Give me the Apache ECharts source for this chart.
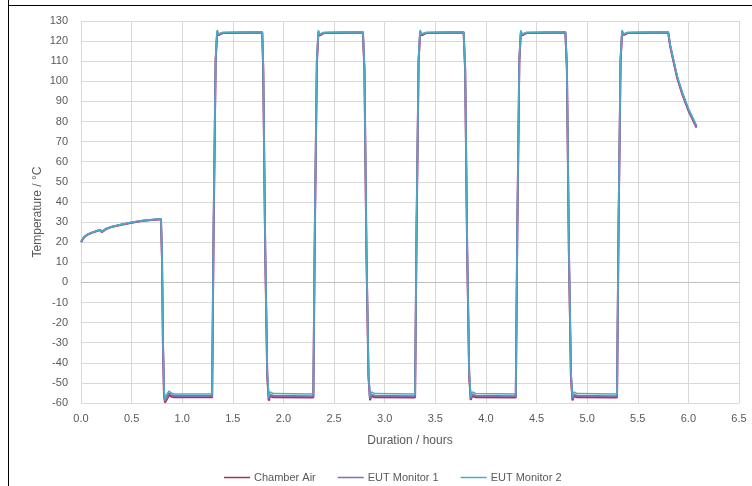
<!DOCTYPE html>
<html>
<head>
<meta charset="utf-8">
<script src="https://cdn.jsdelivr.net/npm/echarts@6/dist/echarts.min.js"></script>
<style>
html,body{margin:0;padding:0;background:#fff;}
#c{width:752px;height:486px;}
</style>
</head>
<body>
<div id="c"></div>
<script>
var hours = [
0,0.03,0.06,0.10,0.15,0.19,0.205,0.215,0.25,0.30,0.40,0.50,0.60,0.70,0.79,
0.80,0.81,0.82,0.83,0.85,0.87,0.89,0.92,1.00,1.295,
1.31,1.33,1.345,1.36,1.375,1.40,1.79,
1.80,1.82,1.84,1.855,1.87,1.90,2.295,
2.31,2.33,2.345,2.36,2.375,2.40,2.785,
2.80,2.82,2.84,2.855,2.87,2.90,3.30,
3.315,3.335,3.35,3.365,3.38,3.41,3.78,
3.795,3.815,3.835,3.85,3.865,3.90,4.295,
4.31,4.33,4.345,4.36,4.375,4.40,4.785,
4.80,4.82,4.84,4.855,4.87,4.90,5.295,
5.31,5.33,5.345,5.36,5.375,5.40,5.80,
5.82,5.85,5.89,5.94,6.00,6.08
];

var chamberAir = [
20.0,22.4,23.6,24.5,25.4,26.0,25.0,25.8,26.6,27.5,28.7,29.7,30.5,31.0,31.4,
12,-32,-56,-59.8,-58,-56,-56.8,-57.2,-57.2,-57.2,
26,110,124.2,123.0,123.6,124.0,124.3,
106,15,-47,-58.8,-56.5,-57.2,-57.3,
25,109,124.0,122.8,123.5,124.0,124.3,
105,14,-47,-58.6,-56.6,-57.2,-57.3,
26,110,124.1,122.9,123.6,124.0,124.3,
105,15,-47,-58.5,-56.5,-57.2,-57.3,
25,110,124.0,122.9,123.6,124.0,124.3,
106,14,-47,-58.7,-56.6,-57.2,-57.3,
26,110,124.2,123.0,123.6,124.0,124.3,
117.5,110.5,101.5,93.5,85.5,77
];

var eutMonitor1 = [
20.1,22.5,23.7,24.6,25.5,26.1,25.1,25.9,26.7,27.6,28.8,29.8,30.6,31.1,31.5,
13,-30,-55,-59,-57,-55,-56,-56.5,-56.5,-56.5,
28,111,124.8,123.3,123.8,124.2,124.5,
107,16,-46,-58,-55.8,-56.4,-56.6,
27,110,124.7,123.2,123.8,124.2,124.5,
106,15,-46,-57.8,-55.8,-56.4,-56.6,
28,111,124.8,123.3,123.8,124.2,124.5,
106,16,-46,-57.8,-55.8,-56.4,-56.6,
27,111,124.7,123.2,123.8,124.2,124.5,
107,15,-46,-58,-55.8,-56.4,-56.6,
28,111,124.8,123.3,123.8,124.2,124.5,
118,111,102,94,86,77.5
];

var eutMonitor2 = [
20.2,22.6,23.8,24.7,25.6,26.2,25.2,26.0,26.8,27.7,28.9,29.9,30.7,31.2,31.6,
14,-28,-53,-58,-55.5,-54,-55,-55.5,-55.5,-55.5,
30,112,125.5,123.5,124.0,124.3,124.6,
108,18,-44,-57,-54.5,-55.3,-55.5,
29,111,125.4,123.4,124.0,124.3,124.6,
107,17,-44,-56.8,-54.5,-55.3,-55.5,
30,112,125.5,123.5,124.0,124.3,124.6,
107,18,-44,-56.8,-54.5,-55.3,-55.5,
29,112,125.4,123.4,124.0,124.3,124.6,
108,17,-44,-57,-54.5,-55.3,-55.5,
30,112,125.5,123.5,124.0,124.3,124.6,
118.5,111.5,102.5,94.5,86.5,78
];

var seriesNames = ['Chamber Air', 'EUT Monitor 1', 'EUT Monitor 2'];
var seriesColors = ['#A3344A', '#8B6BB8', '#4BACC6'];
var seriesValues = [chamberAir, eutMonitor1, eutMonitor2];

function pairs(vals){
  return hours.map(function(h, i){ return [h, vals[i]]; });
}

var font = 'Liberation Sans';
var chart = echarts.init(document.getElementById('c'), null, {renderer:'canvas'});
chart.setOption({
  animation: false,
  backgroundColor: '#fff',
  textStyle: {fontFamily: font},
  grid: {left: 81, right: 13, top: 21, bottom: 83, containLabel: false},
  legend: {
    data: seriesNames,
    left: 219, top: 467,
    itemWidth: 26, itemHeight: 1.5, itemGap: 22,
    icon: 'rect',
    textStyle: {fontFamily: font, fontSize: 11, color: '#595959', padding:[0,0,0,-1]}
  },
  xAxis: {
    type: 'value', min: 0, max: 6.5, interval: 0.5,
    name: 'Duration / hours', nameLocation: 'middle', nameGap: 32,
    nameMoveOverlap: false,
    nameTextStyle: {fontFamily: font, fontSize: 12, color: '#595959'},
    axisLine: {show: false}, axisTick: {show: false},
    axisLabel: {fontFamily: font, fontSize: 11, color: '#595959', margin: 10,
      formatter: function(v){ return v.toFixed(1); }},
    splitLine: {show: true, lineStyle: {color: '#D9D9D9', width: 1}}
  },
  yAxis: {
    type: 'value', min: -60, max: 130, interval: 10,
    name: 'Temperature / °C', nameLocation: 'middle', nameGap: 37, nameRotate: 90,
    nameMoveOverlap: false,
    nameTextStyle: {fontFamily: font, fontSize: 12, color: '#595959'},
    axisLine: {show: false}, axisTick: {show: false},
    axisLabel: {fontFamily: font, fontSize: 11, color: '#595959', margin: 13},
    splitLine: {show: true, lineStyle: {color: '#D9D9D9', width: 1}}
  },
  graphic: [
    {type:'line', shape:{x1:8.5, y1:0, x2:8.5, y2:486}, style:{stroke:'#000', lineWidth:1}},
    {type:'line', shape:{x1:8, y1:5.5, x2:752, y2:5.5}, style:{stroke:'#000', lineWidth:1}}
  ],
  series: seriesNames.map(function(n, i){
    var s = {
      name: n, type: 'line', data: pairs(seriesValues[i]),
      showSymbol: false, symbol: 'none',
      lineStyle: {color: seriesColors[i], width: i === 2 ? 1.5 : 2},
      itemStyle: {color: seriesColors[i]},
      z: 2 + i
    };
    if (i === 0) {
      s.markLine = {silent: true, symbol: 'none', label: {show: false},
        lineStyle: {color: '#BFBFBF', type: 'solid', width: 1},
        data: [{yAxis: 0}], z: 1};
    }
    return s;
  })
});
</script>
</body>
</html>
